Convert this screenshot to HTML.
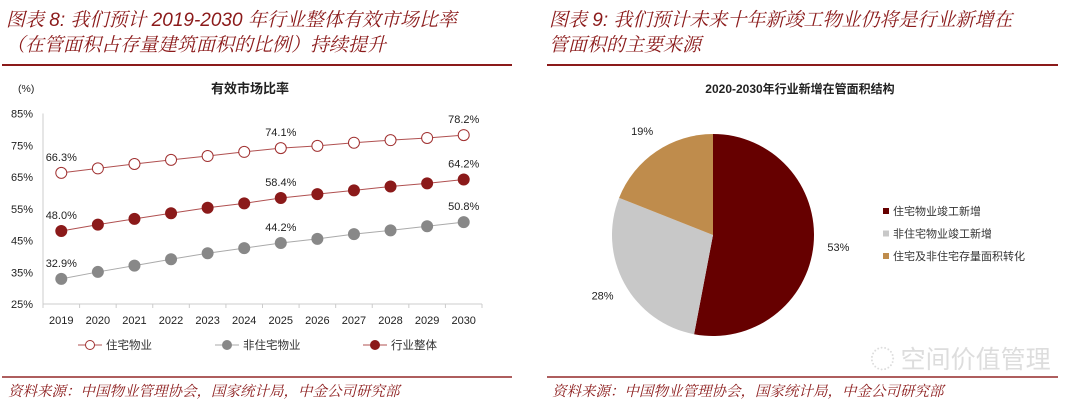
<!DOCTYPE html>
<html><head><meta charset="utf-8">
<style>
html,body{margin:0;padding:0;background:#fff;}
body{width:1080px;height:410px;overflow:hidden;position:relative;font-family:"Liberation Sans","Noto Sans CJK SC",sans-serif;}
.h{position:absolute;color:#8b1a1a;font-style:italic;font-size:19px;line-height:25px;font-family:"Liberation Sans","Noto Serif CJK SC",serif;white-space:nowrap;}
.src{position:absolute;color:#8b1a1a;font-style:italic;font-size:14.5px;font-family:"Liberation Sans","Noto Serif CJK SC",serif;white-space:nowrap;top:380px;}
.rule{position:absolute;height:1.5px;background:#8b1a1a;}
</style></head><body>
<div class="h" style="left:6px;top:8px;">图表 8: 我们预计 2019-2030 年行业整体有效市场比率<br>（在管面积占存量建筑面积的比例）持续提升</div>
<div class="h" style="left:549px;top:8px;">图表 9: 我们预计未来十年新竣工物业仍将是行业新增在<br>管面积的主要来源</div>
<div class="rule" style="left:2px;width:510px;top:64px;"></div>
<div class="rule" style="left:547px;width:511px;top:64px;"></div>
<div class="rule" style="left:2px;width:510px;top:376px;opacity:.7"></div>
<div class="rule" style="left:547px;width:511px;top:376px;opacity:.7"></div>
<div class="src" style="left:8px;">资料来源：中国物业管理协会，国家统计局，中金公司研究部</div>
<div class="src" style="left:552px;">资料来源：中国物业管理协会，国家统计局，中金公司研究部</div>
<div style="position:absolute;left:870px;top:340px;font-size:25px;color:#ddd;font-family:'Noto Sans CJK SC',sans-serif;">◌ 空间价值管理</div>

<svg id="line" width="540" height="300" style="position:absolute;left:0;top:60px;" font-family="Liberation Sans, Noto Sans CJK SC, sans-serif"></svg>
<svg id="pie" width="540" height="300" style="position:absolute;left:540px;top:60px;" font-family="Liberation Sans, Noto Sans CJK SC, sans-serif"></svg>

<script>
const years=["2019","2020","2021","2022","2023","2024","2025","2026","2027","2028","2029","2030"];
const residential=[66.3,67.7,69.1,70.4,71.6,72.9,74.1,74.8,75.8,76.6,77.3,78.2];
const nonResidential=[32.9,35.1,37.1,39.1,41.0,42.6,44.2,45.5,47.0,48.2,49.5,50.8];
const overall=[48.0,50.0,51.8,53.6,55.3,56.7,58.4,59.6,60.8,62.0,63.0,64.2];
const yTicks=[25,35,45,55,65,75,85];
const labelIdx=[0,6,11];
const pieLabels=["住宅物业竣工新增","非住宅物业竣工新增","住宅及非住宅存量面积转化"];
const pieValues=[53,28,19];

const NS="http://www.w3.org/2000/svg";
function mk(p,t,a){const e=document.createElementNS(NS,t);for(const k in a)e.setAttribute(k,a[k]);p.appendChild(e);return e;}
const L=document.getElementById('line');
const x0=43,x1=482,yTop=53.5,yBot=244;
const step=(x1-x0)/years.length;
const xS=i=>x0+step*(i+0.5);
const yS=v=>yBot-(v-25)/(85-25)*(yBot-yTop);
let t=mk(L,'text',{x:250,y:33,'font-size':13,'font-weight':'bold','text-anchor':'middle',fill:'#222'});t.textContent='有效市场比率';

t=mk(L,'text',{x:18,y:32,'font-size':10.5,fill:'#222'});t.textContent='(%)';

mk(L,'line',{x1:x0,y1:yTop,x2:x0,y2:yBot,stroke:'#ccc'});
mk(L,'line',{x1:x0,y1:yBot,x2:x1,y2:yBot,stroke:'#ccc'});
yTicks.forEach(v=>{const e=mk(L,'text',{x:33,y:yS(v)+4,'font-size':11,'text-anchor':'end',fill:'#222'});e.textContent=v+'%';
});
years.forEach((y,i)=>{mk(L,'line',{x1:x0+step*i,y1:yBot,x2:x0+step*i,y2:yBot+4,stroke:'#ccc'});
const e=mk(L,'text',{x:xS(i),y:264,'font-size':11,'text-anchor':'middle',fill:'#222'});e.textContent=y;
});
mk(L,'line',{x1:x1,y1:yBot,x2:x1,y2:yBot+4,stroke:'#ccc'});
const series=[
 {d:residential,stroke:'#b05050',fill:'#fff',name:'residential'},
 {d:overall,stroke:'#b05050',fill:'#8b1a1a',name:'overall'},
 {d:nonResidential,stroke:'#aaa',fill:'#888',name:'non-residential'}];
series.forEach(s=>{
 const pl=mk(L,'polyline',{points:s.d.map((v,i)=>xS(i)+','+yS(v)).join(' '),fill:'none',stroke:s.stroke,'stroke-width':1});
 
 s.d.forEach((v,i)=>{const c=mk(L,'circle',{cx:xS(i),cy:yS(v),r:5.5,fill:s.fill,stroke:s.fill==='#fff'?'#a03030':s.fill,'stroke-width':1});
 });
 labelIdx.forEach(i=>{const e=mk(L,'text',{x:xS(i),y:yS(s.d[i])-12,'font-size':11,'text-anchor':'middle',fill:'#222'});e.textContent=s.d[i].toFixed(1)+'%';
 });
});
const leg=[{n:'住宅物业',f:'#fff',s:'#b05050',x:78},{n:'非住宅物业',f:'#888',s:'#aaa',x:215},{n:'行业整体',f:'#8b1a1a',s:'#b05050',x:363}];
leg.forEach(l=>{const g=mk(L,'g',{});
mk(g,'line',{x1:l.x,y1:285,x2:l.x+24,y2:285,stroke:l.s});
mk(g,'circle',{cx:l.x+12,cy:285,r:4.5,fill:l.f,stroke:l.f==='#fff'?'#a03030':l.f});
const e=mk(g,'text',{x:l.x+28,y:289,'font-size':11.5,fill:'#333'});e.textContent=l.n;});

const P=document.getElementById('pie');
t=mk(P,'text',{x:260,y:33,'font-size':12,'font-weight':'bold','text-anchor':'middle',fill:'#222'});t.textContent='2020-2030年行业新增在管面积结构';

const cx=173,cy=175,r=101;const cols=['#660000','#c8c8c8','#bf8c4c'];
const tot=pieValues.reduce((a,b)=>a+b,0);let a0=-Math.PI/2;
pieValues.forEach((v,i)=>{const a1=a0+v/tot*2*Math.PI;
const p=mk(P,'path',{d:`M${cx},${cy} L${cx+r*Math.cos(a0)},${cy+r*Math.sin(a0)} A${r},${r} 0 ${a1-a0>Math.PI?1:0} 1 ${cx+r*Math.cos(a1)},${cy+r*Math.sin(a1)} Z`,fill:cols[i]});

const am=(a0+a1)/2;const lr=r+25;
const e=mk(P,'text',{x:cx+lr*Math.cos(am),y:cy+lr*Math.sin(am)+4,'font-size':11,'text-anchor':'middle',fill:'#222'});e.textContent=v+'%';

a0=a1;});
pieLabels.forEach((n,i)=>{const g=mk(P,'g',{});
mk(g,'rect',{x:343,y:148+i*22.5,width:6,height:6,fill:cols[i]});
const e=mk(g,'text',{x:353,y:155+i*22.5,'font-size':11,fill:'#333'});e.textContent=n;});
</script>
</body></html>
